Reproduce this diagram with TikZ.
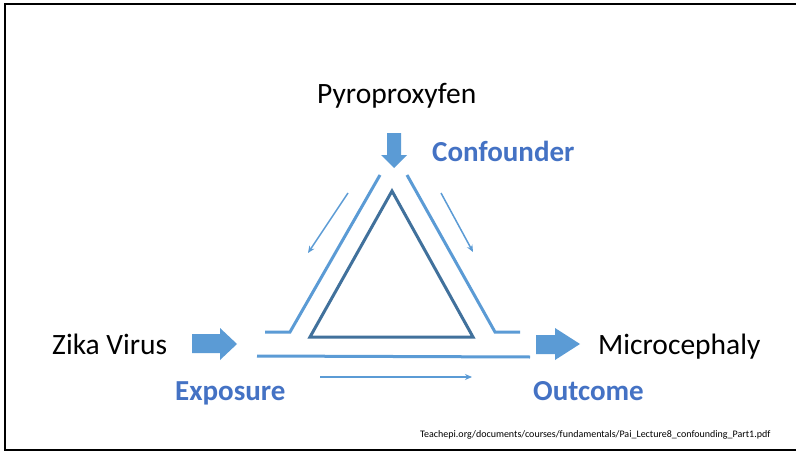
\documentclass[tikz,border=0pt]{standalone}
\usepackage{fontspec}
\setmainfont{Carlito}
\usetikzlibrary{arrows.meta}
\definecolor{lineblue}{HTML}{5B9BD5}
\definecolor{darkblue}{HTML}{41719C}
\definecolor{textblue}{HTML}{4472C4}
\tikzset{
  lbl/.style={font=\fontsize{29.5}{31}\selectfont, inner sep=0pt, anchor=base west, text=black},
  blbl/.style={font=\fontsize{29}{31}\selectfont\bfseries, inner sep=0pt, anchor=base west, text=textblue},
  path line/.style={draw=lineblue, line width=3pt},
  thin arrow/.style={draw=lineblue, line width=1.5pt, -{Stealth[length=7pt,width=6pt]}},
  block/.style={fill=lineblue, draw=none},
}
\begin{document}
\begin{tikzpicture}[x=1pt,y=-1pt]
\useasboundingbox (0,0) rectangle (796,452);
\fill[white] (0,0) rectangle (796,452);
% frame (top, left, bottom)
\draw[line width=2pt, black] (796,4) -- (5,4) -- (5,450) -- (796,450);

% texts
\node[lbl] (pyro) at (317,103) {Pyroproxyfen};
\node[blbl] (conf) at (432,161) {Confounder};
\node[lbl] (zika) at (52,354) {Zika Virus};
\node[lbl] (micro) at (598,354) {Microcephaly};
\node[blbl] (expo) at (175,400) {Exposure};
\node[blbl] (outc) at (533,400) {Outcome};
\node[inner sep=0pt, anchor=base west, font=\fontsize{10}{12}\selectfont] (src) at (420,437) {Teachepi.org/documents/courses/fundamentals/Pai\_Lecture8\_confounding\_Part1.pdf};

% block arrows
\fill[block] (387,133) -- (401,133) -- (401,155) -- (407,155) -- (394,168) -- (381,155) -- (387,155) -- cycle;
\fill[block] (192,334) -- (220,334) -- (220,328) -- (237,344) -- (220,360) -- (220,353) -- (192,353) -- cycle;
\fill[block] (536,335) -- (555,335) -- (555,328) -- (580,344) -- (555,360) -- (555,354) -- (536,354) -- cycle;

% outer paths
\draw[path line] (380,175) -- (290,332) -- (265,332);
\draw[path line] (407,175) -- (495,332) -- (520,332);
\draw[path line] (257,356) -- (530,357);

% inner triangle
\draw[darkblue, line width=3pt, line join=miter] (392,191) -- (473,337) -- (310,337) -- cycle;

% thin arrows
\draw[thin arrow] (348,193) -- (308,253);
\draw[thin arrow] (441,193) -- (473,252);
\draw[thin arrow] (320,377) -- (472,377);
\end{tikzpicture}
\end{document}
